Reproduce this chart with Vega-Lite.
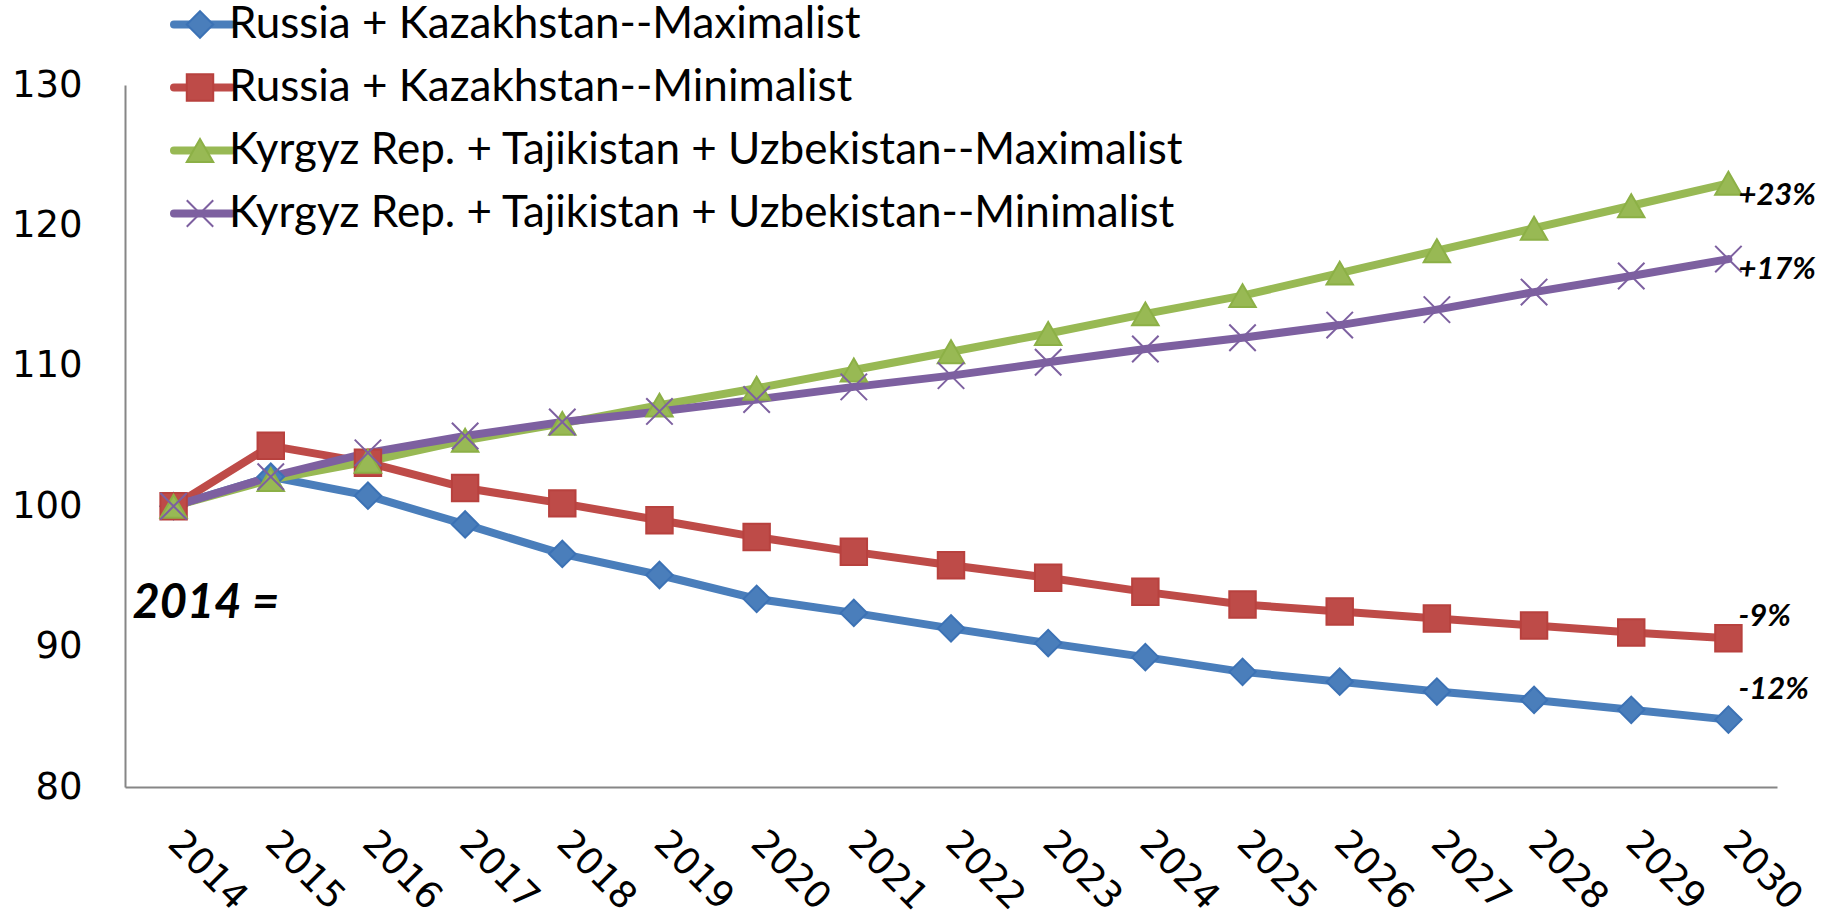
{
  "$schema": "https://vega.github.io/schema/vega-lite/v6.json",
  "width": 1652,
  "height": 702,
  "autosize": {"type": "none"},
  "padding": {"left": 125, "top": 85, "right": 56, "bottom": 131},
  "background": "white",
  "config": {
    "view": {"stroke": null},
    "axis": {"grid": false, "ticks": false, "domainColor": "#868686", "domainWidth": 2, "labelColor": "black", "labelFont": "DejaVu Sans", "labelFontSize": 37, "title": null}
  },
  "datasets": {
    "series": [
      {"year": 2014, "series": "Russia + Kazakhstan--Maximalist", "value": 100},
      {"year": 2015, "series": "Russia + Kazakhstan--Maximalist", "value": 102.1},
      {"year": 2016, "series": "Russia + Kazakhstan--Maximalist", "value": 100.75},
      {"year": 2017, "series": "Russia + Kazakhstan--Maximalist", "value": 98.7},
      {"year": 2018, "series": "Russia + Kazakhstan--Maximalist", "value": 96.6},
      {"year": 2019, "series": "Russia + Kazakhstan--Maximalist", "value": 95.1},
      {"year": 2020, "series": "Russia + Kazakhstan--Maximalist", "value": 93.4},
      {"year": 2021, "series": "Russia + Kazakhstan--Maximalist", "value": 92.4},
      {"year": 2022, "series": "Russia + Kazakhstan--Maximalist", "value": 91.3},
      {"year": 2023, "series": "Russia + Kazakhstan--Maximalist", "value": 90.25},
      {"year": 2024, "series": "Russia + Kazakhstan--Maximalist", "value": 89.25},
      {"year": 2025, "series": "Russia + Kazakhstan--Maximalist", "value": 88.2},
      {"year": 2026, "series": "Russia + Kazakhstan--Maximalist", "value": 87.5},
      {"year": 2027, "series": "Russia + Kazakhstan--Maximalist", "value": 86.8},
      {"year": 2028, "series": "Russia + Kazakhstan--Maximalist", "value": 86.2},
      {"year": 2029, "series": "Russia + Kazakhstan--Maximalist", "value": 85.5},
      {"year": 2030, "series": "Russia + Kazakhstan--Maximalist", "value": 84.8},
      {"year": 2014, "series": "Russia + Kazakhstan--Minimalist", "value": 100},
      {"year": 2015, "series": "Russia + Kazakhstan--Minimalist", "value": 104.3},
      {"year": 2016, "series": "Russia + Kazakhstan--Minimalist", "value": 103.1},
      {"year": 2017, "series": "Russia + Kazakhstan--Minimalist", "value": 101.3},
      {"year": 2018, "series": "Russia + Kazakhstan--Minimalist", "value": 100.2},
      {"year": 2019, "series": "Russia + Kazakhstan--Minimalist", "value": 99.0},
      {"year": 2020, "series": "Russia + Kazakhstan--Minimalist", "value": 97.8},
      {"year": 2021, "series": "Russia + Kazakhstan--Minimalist", "value": 96.75},
      {"year": 2022, "series": "Russia + Kazakhstan--Minimalist", "value": 95.8},
      {"year": 2023, "series": "Russia + Kazakhstan--Minimalist", "value": 94.9},
      {"year": 2024, "series": "Russia + Kazakhstan--Minimalist", "value": 93.9},
      {"year": 2025, "series": "Russia + Kazakhstan--Minimalist", "value": 93.0},
      {"year": 2026, "series": "Russia + Kazakhstan--Minimalist", "value": 92.5},
      {"year": 2027, "series": "Russia + Kazakhstan--Minimalist", "value": 92.0},
      {"year": 2028, "series": "Russia + Kazakhstan--Minimalist", "value": 91.5},
      {"year": 2029, "series": "Russia + Kazakhstan--Minimalist", "value": 91.0},
      {"year": 2030, "series": "Russia + Kazakhstan--Minimalist", "value": 90.6},
      {"year": 2014, "series": "Kyrgyz Rep. + Tajikistan + Uzbekistan--Maximalist", "value": 100},
      {"year": 2015, "series": "Kyrgyz Rep. + Tajikistan + Uzbekistan--Maximalist", "value": 101.9},
      {"year": 2016, "series": "Kyrgyz Rep. + Tajikistan + Uzbekistan--Maximalist", "value": 103.2},
      {"year": 2017, "series": "Kyrgyz Rep. + Tajikistan + Uzbekistan--Maximalist", "value": 104.7},
      {"year": 2018, "series": "Kyrgyz Rep. + Tajikistan + Uzbekistan--Maximalist", "value": 105.9},
      {"year": 2019, "series": "Kyrgyz Rep. + Tajikistan + Uzbekistan--Maximalist", "value": 107.2},
      {"year": 2020, "series": "Kyrgyz Rep. + Tajikistan + Uzbekistan--Maximalist", "value": 108.4},
      {"year": 2021, "series": "Kyrgyz Rep. + Tajikistan + Uzbekistan--Maximalist", "value": 109.7},
      {"year": 2022, "series": "Kyrgyz Rep. + Tajikistan + Uzbekistan--Maximalist", "value": 111.0},
      {"year": 2023, "series": "Kyrgyz Rep. + Tajikistan + Uzbekistan--Maximalist", "value": 112.3},
      {"year": 2024, "series": "Kyrgyz Rep. + Tajikistan + Uzbekistan--Maximalist", "value": 113.7},
      {"year": 2025, "series": "Kyrgyz Rep. + Tajikistan + Uzbekistan--Maximalist", "value": 115.0},
      {"year": 2026, "series": "Kyrgyz Rep. + Tajikistan + Uzbekistan--Maximalist", "value": 116.6},
      {"year": 2027, "series": "Kyrgyz Rep. + Tajikistan + Uzbekistan--Maximalist", "value": 118.2},
      {"year": 2028, "series": "Kyrgyz Rep. + Tajikistan + Uzbekistan--Maximalist", "value": 119.8},
      {"year": 2029, "series": "Kyrgyz Rep. + Tajikistan + Uzbekistan--Maximalist", "value": 121.4},
      {"year": 2030, "series": "Kyrgyz Rep. + Tajikistan + Uzbekistan--Maximalist", "value": 123.0},
      {"year": 2014, "series": "Kyrgyz Rep. + Tajikistan + Uzbekistan--Minimalist", "value": 100},
      {"year": 2015, "series": "Kyrgyz Rep. + Tajikistan + Uzbekistan--Minimalist", "value": 102.1},
      {"year": 2016, "series": "Kyrgyz Rep. + Tajikistan + Uzbekistan--Minimalist", "value": 103.8},
      {"year": 2017, "series": "Kyrgyz Rep. + Tajikistan + Uzbekistan--Minimalist", "value": 105.0},
      {"year": 2018, "series": "Kyrgyz Rep. + Tajikistan + Uzbekistan--Minimalist", "value": 106.0},
      {"year": 2019, "series": "Kyrgyz Rep. + Tajikistan + Uzbekistan--Minimalist", "value": 106.75},
      {"year": 2020, "series": "Kyrgyz Rep. + Tajikistan + Uzbekistan--Minimalist", "value": 107.6},
      {"year": 2021, "series": "Kyrgyz Rep. + Tajikistan + Uzbekistan--Minimalist", "value": 108.5},
      {"year": 2022, "series": "Kyrgyz Rep. + Tajikistan + Uzbekistan--Minimalist", "value": 109.3},
      {"year": 2023, "series": "Kyrgyz Rep. + Tajikistan + Uzbekistan--Minimalist", "value": 110.25},
      {"year": 2024, "series": "Kyrgyz Rep. + Tajikistan + Uzbekistan--Minimalist", "value": 111.2},
      {"year": 2025, "series": "Kyrgyz Rep. + Tajikistan + Uzbekistan--Minimalist", "value": 112.0},
      {"year": 2026, "series": "Kyrgyz Rep. + Tajikistan + Uzbekistan--Minimalist", "value": 112.9},
      {"year": 2027, "series": "Kyrgyz Rep. + Tajikistan + Uzbekistan--Minimalist", "value": 114.0},
      {"year": 2028, "series": "Kyrgyz Rep. + Tajikistan + Uzbekistan--Minimalist", "value": 115.25},
      {"year": 2029, "series": "Kyrgyz Rep. + Tajikistan + Uzbekistan--Minimalist", "value": 116.4},
      {"year": 2030, "series": "Kyrgyz Rep. + Tajikistan + Uzbekistan--Minimalist", "value": 117.6}
    ],
    "endLabels": [
      {"year": 2030, "value": 122.1, "label": "+23%"},
      {"year": 2030, "value": 116.8, "label": "+17%"},
      {"year": 2030, "value": 92.1, "label": "-9%"},
      {"year": 2030, "value": 86.9, "label": "-12%"}
    ],
    "baseLabel": [
      {"year": 2014, "value": 93.0, "label": "2014 ="}
    ]
  },
  "encoding": {
    "x": {"field": "year", "type": "ordinal", "scale": {"type": "point", "padding": 0.5, "domain": [2014,2015,2016,2017,2018,2019,2020,2021,2022,2023,2024,2025,2026,2027,2028,2029,2030]},
      "axis": {"labelAngle": 45, "labelAlign": "left", "labelBaseline": "middle", "labelPadding": 50, "domain": true}},
    "y": {"field": "value", "type": "quantitative", "scale": {"domain": [80, 130], "nice": false, "zero": false},
      "axis": {"values": [80, 90, 100, 110, 120, 130], "labelPadding": 43}}
  },
  "resolve": {"legend": {"color": "independent", "shape": "independent", "stroke": "independent"}},
  "layer": [
    {
      "data": {"name": "series"},
      "mark": {"type": "line", "strokeWidth": 8, "strokeCap": "round", "strokeJoin": "round"},
      "encoding": {
        "color": {"field": "series", "type": "nominal",
          "scale": {"domain": ["Russia + Kazakhstan--Maximalist", "Russia + Kazakhstan--Minimalist", "Kyrgyz Rep. + Tajikistan + Uzbekistan--Maximalist", "Kyrgyz Rep. + Tajikistan + Uzbekistan--Minimalist"],
            "range": ["#4A7EBB", "#BE4B48", "#98B954", "#7D60A0"]},
          "legend": {"orient": "none", "legendX": 45, "legendY": -92, "title": null, "padding": 0, "symbolType": "stroke", "symbolSize": 3364, "symbolStrokeWidth": 8, "labelFont": "Lato", "labelFontSize": 44, "labelColor": "black", "labelOffset": -7, "rowPadding": 0, "clipHeight": 63, "labelLimit": 1400,
            "encode": {"symbols": {"update": {"stroke": {"scale": "color", "field": "value"}, "strokeWidth": {"value": 8}, "strokeCap": {"value": "round"}, "opacity": {"value": 1}, "shape": {"value": "stroke"}}}}}}
      }
    },
    {
      "data": {"name": "series"},
      "mark": {"type": "point", "filled": true, "opacity": 1, "size": 700, "strokeWidth": 2},
      "encoding": {
        "color": {"field": "series", "type": "nominal",
          "legend": {"orient": "none", "legendX": 53, "legendY": -92, "title": null, "padding": 0, "symbolSize": 700, "symbolStrokeWidth": 2, "symbolOpacity": 1, "labelFontSize": 44, "labelFont": "Lato", "labelExpr": "''", "rowPadding": 0, "clipHeight": 63}},
        "shape": {"field": "series", "type": "nominal",
          "scale": {"domain": ["Russia + Kazakhstan--Maximalist", "Russia + Kazakhstan--Minimalist", "Kyrgyz Rep. + Tajikistan + Uzbekistan--Maximalist", "Kyrgyz Rep. + Tajikistan + Uzbekistan--Minimalist"],
            "range": ["diamond", "square", "triangle-up", "M-1,-1L1,1M1,-1L-1,1"]},
          "legend": {"orient": "none", "legendX": 53, "legendY": -92, "title": null, "padding": 0, "symbolSize": 700, "symbolStrokeWidth": 2, "symbolOpacity": 1, "labelFontSize": 44, "labelFont": "Lato", "labelExpr": "''", "rowPadding": 0, "clipHeight": 63}},
        "stroke": {"field": "series", "type": "nominal",
          "scale": {"domain": ["Russia + Kazakhstan--Maximalist", "Russia + Kazakhstan--Minimalist", "Kyrgyz Rep. + Tajikistan + Uzbekistan--Maximalist", "Kyrgyz Rep. + Tajikistan + Uzbekistan--Minimalist"],
            "range": ["#3C72B5", "#B8413E", "#8CB046", "#7D60A0"]},
          "legend": {"orient": "none", "legendX": 53, "legendY": -92, "title": null, "padding": 0, "symbolSize": 700, "symbolStrokeWidth": 2, "symbolOpacity": 1, "labelFontSize": 44, "labelFont": "Lato", "labelExpr": "''", "rowPadding": 0, "clipHeight": 63}}
      }
    },
    {
      "data": {"name": "endLabels"},
      "mark": {"type": "text", "font": "Lato", "fontSize": 31, "fontWeight": "bold", "fontStyle": "italic", "align": "left", "baseline": "middle", "dx": 10, "color": "black"},
      "encoding": {"text": {"field": "label", "type": "nominal"}}
    },
    {
      "data": {"name": "baseLabel"},
      "mark": {"type": "text", "font": "Lato", "fontSize": 47, "fontWeight": "bold", "fontStyle": "italic", "align": "left", "baseline": "middle", "dx": -41, "color": "black"},
      "encoding": {"text": {"field": "label", "type": "nominal"}}
    }
  ]
}
